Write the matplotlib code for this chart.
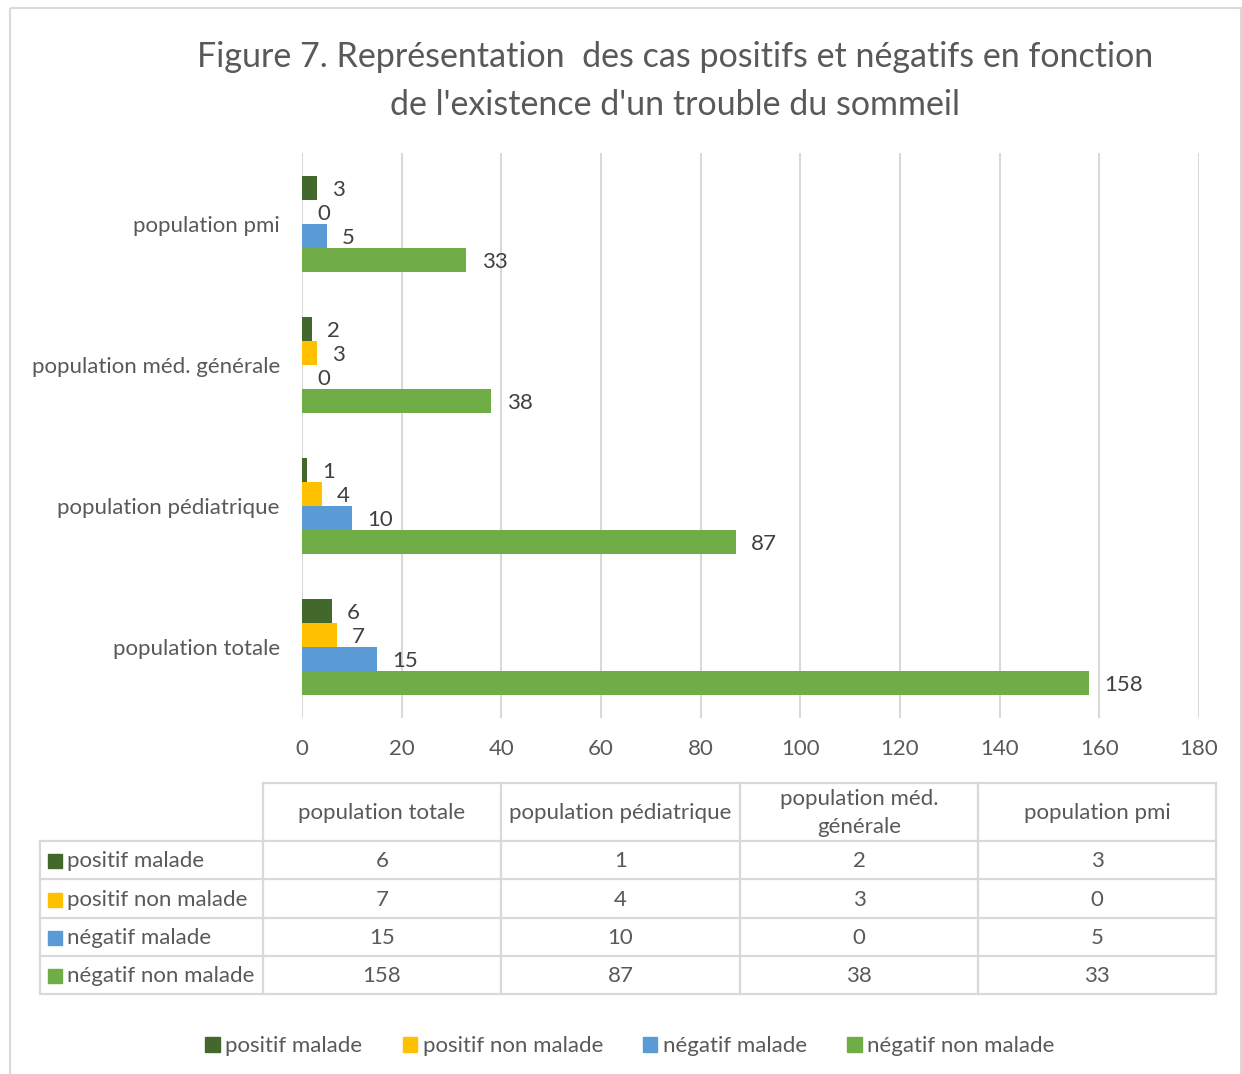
import matplotlib
matplotlib.use('Agg')
import matplotlib.pyplot as plt
from matplotlib.patches import Rectangle, Patch

plt.rcParams['font.family'] = ['Lato', 'DejaVu Sans']

title = "Figure 7. Représentation  des cas positifs et négatifs en fonction\nde l'existence d'un trouble du sommeil"
categories = ['population totale', 'population pédiatrique', 'population méd. générale', 'population pmi']
table_headers = ['population totale', 'population pédiatrique', 'population méd.\ngénérale', 'population pmi']
series_names = ['positif malade', 'positif non malade', 'négatif malade', 'négatif non malade']
series_values = [
    [6, 1, 2, 3],
    [7, 4, 3, 0],
    [15, 10, 0, 5],
    [158, 87, 38, 33],
]
colors = ['#43682b', '#ffc000', '#5b9bd5', '#70ad47']
x_ticks = [0, 20, 40, 60, 80, 100, 120, 140, 160, 180]

text_col = '#595959'
grid_col = '#d9d9d9'
fs = 16
W, H = 1242, 1074

fig = plt.figure(figsize=(W / 100, H / 100), dpi=100)

# overlay in pixel coordinates for frame and data table
over = fig.add_axes([0, 0, 1, 1], zorder=0)
over.set_xlim(0, W)
over.set_ylim(H, 0)
over.axis('off')
over.add_patch(Rectangle((10, 8), W - 11, H, fill=False, ec=grid_col, lw=1.5))

ax = fig.add_axes([302 / W, 1 - 718 / H, (1199 - 302) / W, (718 - 153) / H], zorder=1)
ax.patch.set_alpha(0)

bar_h = 0.17
for i, (name, vals, c) in enumerate(zip(series_names, series_values, colors)):
    ys = [k + (1.5 - i) * bar_h for k in range(len(categories))]
    ax.barh(ys, vals, height=bar_h, color=c, label=name, zorder=3)
    for y, v in zip(ys, vals):
        ax.annotate(str(v), (v, y), xytext=(11, -1.5), textcoords='offset points',
                    ha='left', va='center', fontsize=fs, color='#404040')

ax.set_xlim(0, 180)
ax.set_ylim(-0.5, 3.5)
ax.set_xticks(x_ticks)
ax.set_yticks(range(len(categories)))
ax.set_yticklabels(categories)
ax.tick_params(axis='both', length=0, labelsize=fs, labelcolor=text_col)
ax.tick_params(axis='x', pad=15)
ax.tick_params(axis='y', pad=16)
ax.grid(axis='x', color=grid_col, lw=1.5, zorder=0)
for s in ax.spines.values():
    s.set_visible(False)

fig.text(675 / W, 1 - 81 / H, title, ha='center', va='center', fontsize=24.5,
         color=text_col, linespacing=1.58)

# data table
col_x = [40, 263, 501, 740, 978, 1216]
row_y = [783, 841, 879, 918, 956, 994]
lw = 1.6
over.plot([263, 1216], [783, 783], color=grid_col, lw=lw)
for y in row_y[1:]:
    over.plot([40, 1216], [y, y], color=grid_col, lw=lw)
over.plot([40, 40], [841, 994], color=grid_col, lw=lw)
for x in col_x[1:]:
    over.plot([x, x], [783, 994], color=grid_col, lw=lw)

for j, hdr in enumerate(table_headers):
    over.text((col_x[j + 1] + col_x[j + 2]) / 2, (row_y[0] + row_y[1]) / 2 + 1, hdr,
              ha='center', va='center', fontsize=fs, color=text_col, linespacing=1.45)
for i, (name, vals, c) in enumerate(zip(series_names, series_values, colors)):
    yc = (row_y[i + 1] + row_y[i + 2]) / 2 + 1
    over.add_patch(Rectangle((48, yc - 7), 14, 14, color=c))
    over.text(67, yc, name, ha='left', va='center', fontsize=fs, color=text_col)
    for j, v in enumerate(vals):
        over.text((col_x[j + 1] + col_x[j + 2]) / 2, yc, str(v), ha='center', va='center',
                  fontsize=fs, color=text_col)

handles = [Patch(color=c, label=n) for n, c in zip(series_names, colors)]
fig.legend(handles=handles, loc='center', bbox_to_anchor=(630 / W, 1 - 1046 / H), ncol=4,
           frameon=False, fontsize=fs, labelcolor=text_col, handlelength=0.65,
           handleheight=0.65, handletextpad=0.25, columnspacing=1.8)

fig.savefig('out.png', dpi=100)
